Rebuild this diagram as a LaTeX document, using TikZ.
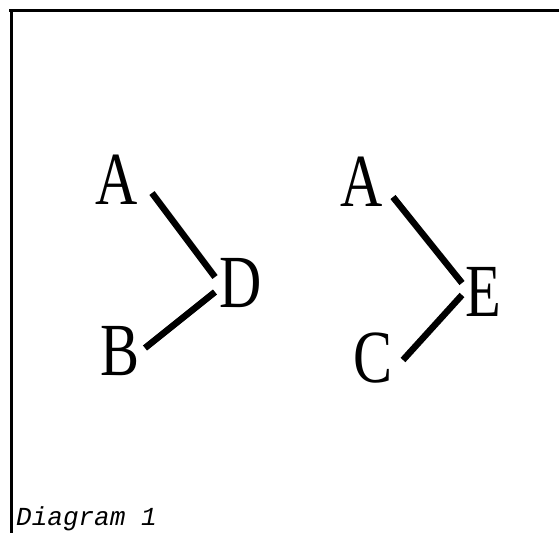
\documentclass[tikz,border=0pt]{standalone}
\usepackage{fontspec}
\setmainfont{Liberation Serif}
\newfontfamily\letterfont[FakeStretch=0.78]{Liberation Serif}
\newfontfamily\capfont{Liberation Mono}
\tikzset{
  lbl/.style={font=\letterfont\fontsize{75}{75}\selectfont, inner sep=0pt, anchor=center},
  edge/.style={line width=6.5pt},
  frame/.style={line width=3.2pt},
}
\begin{document}
\begin{tikzpicture}[x=1pt,y=-1pt]
\useasboundingbox (0,0) rectangle (559,533);
\fill[white] (0,0) rectangle (559,533);
\coordinate (tl) at (11.5,10.5);
\coordinate (tr) at (559,10.5);
\coordinate (bl) at (11.5,533);
\draw[frame] (9,10.5) -- (tr);
\draw[frame] (tl) -- (bl);
% left diagram
\node[lbl] (A1) at (117,180) {\vphantom{B}A};
\node[lbl] (D) at (241,283) {\vphantom{B}D};
\node[lbl] (B) at (120,351) {B};
\coordinate (a1s) at (152,193);
\coordinate (a1e) at (215,277);
\coordinate (bs) at (145,348);
\coordinate (be) at (215,292);
\draw[edge] (a1s) -- (a1e);
\draw[edge] (bs) -- (be);
% right diagram
\node[lbl] (A2) at (362,182) {\vphantom{B}A};
\node[lbl] (E) at (483,292) {E};
\node[lbl] (C) at (373,358) {C};
\coordinate (a2s) at (393,197);
\coordinate (a2e) at (462,283);
\coordinate (cs) at (403,360);
\coordinate (ce) at (462,295);
\draw[edge] (a2s) -- (a2e);
\draw[edge] (cs) -- (ce);
% caption
\node[font=\capfont\itshape\fontsize{26}{26}\selectfont, inner sep=0pt, anchor=base west] (cap) at (16,525) {Diagram 1};
\end{tikzpicture}
\end{document}
